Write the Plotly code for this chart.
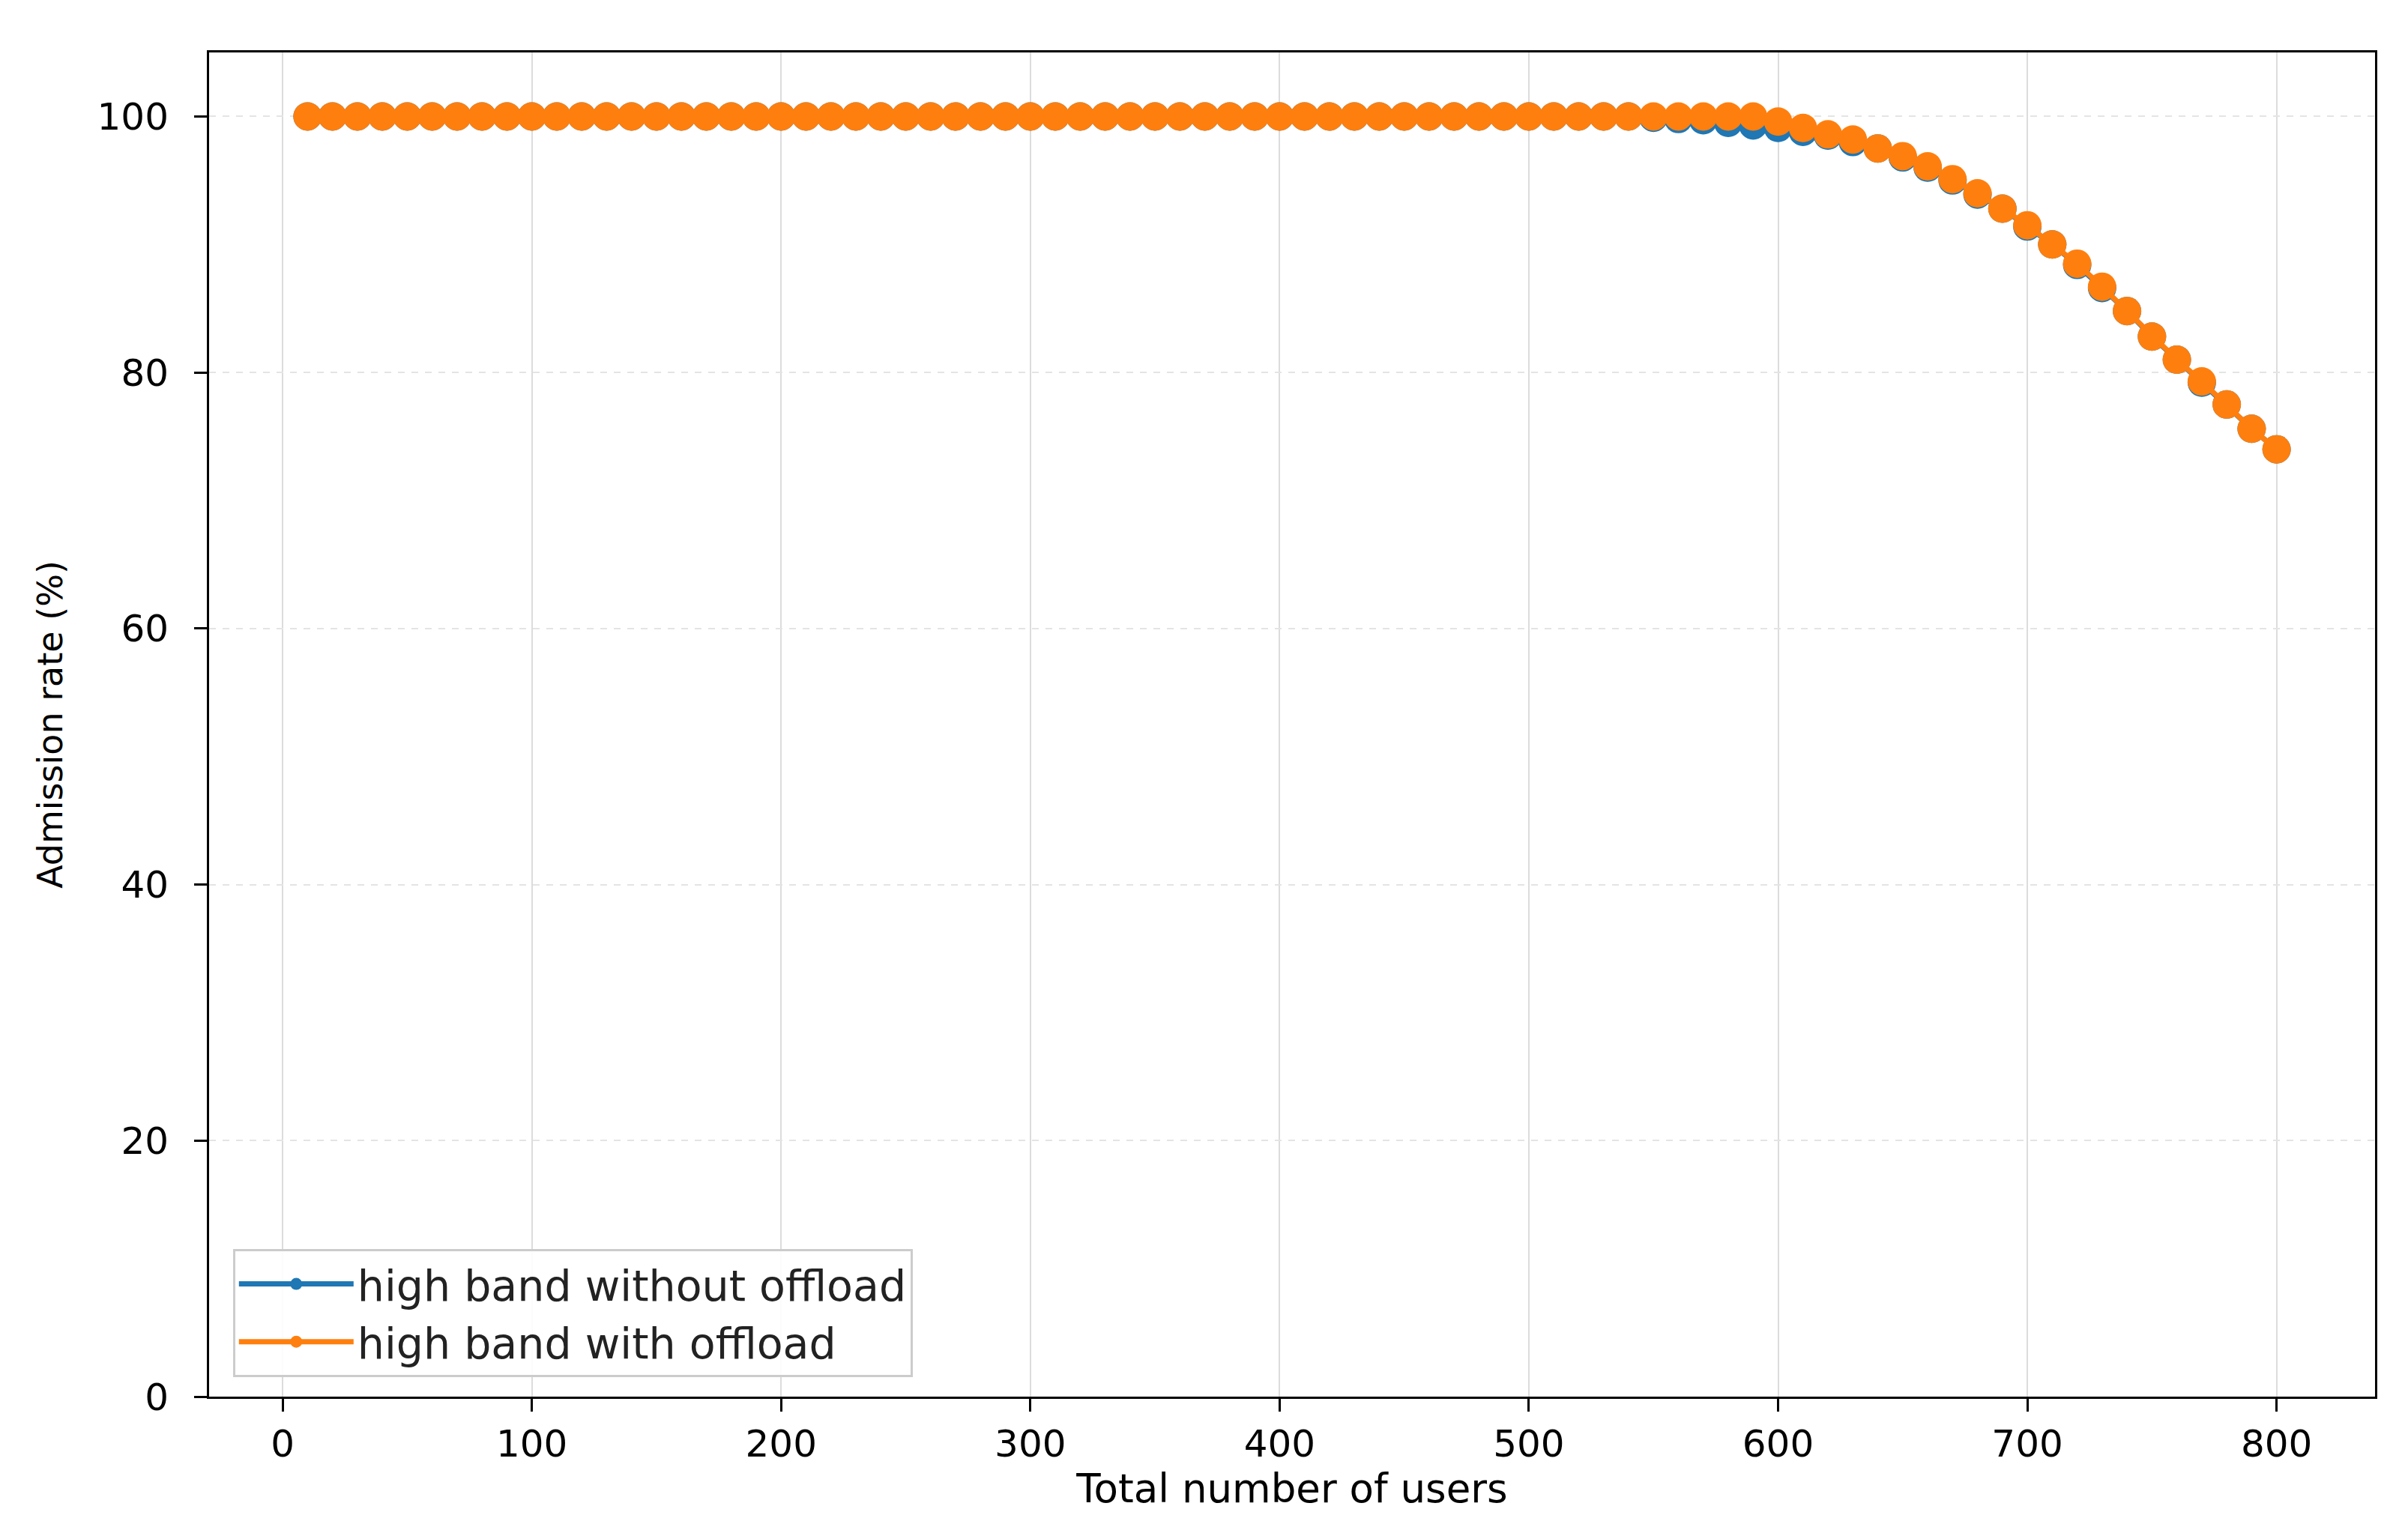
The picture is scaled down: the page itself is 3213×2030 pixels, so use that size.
import plotly.graph_objects as go

users = [10, 20, 30, 40, 50, 60, 70, 80, 90, 100,
         110, 120, 130, 140, 150, 160, 170, 180, 190, 200,
         210, 220, 230, 240, 250, 260, 270, 280, 290, 300,
         310, 320, 330, 340, 350, 360, 370, 380, 390, 400,
         410, 420, 430, 440, 450, 460, 470, 480, 490, 500,
         510, 520, 530, 540, 550, 560, 570, 580, 590, 600,
         610, 620, 630, 640, 650, 660, 670, 680, 690, 700,
         710, 720, 730, 740, 750, 760, 770, 780, 790, 800]

without_offload = [100] * 54 + [99.9, 99.8, 99.7, 99.5, 99.3, 99.1,
                                98.8, 98.5, 98.0, 97.5, 96.8, 96.0, 95.0, 93.9, 92.8, 91.4,
                                90.0, 88.4, 86.6, 84.8, 82.8, 81.0, 79.2, 77.5, 75.6, 74.0]

with_offload = [100] * 59 + [99.6,
                             99.1, 98.6, 98.2, 97.5, 96.9, 96.1, 95.1, 94.0, 92.8, 91.5,
                             90.0, 88.5, 86.7, 84.8, 82.8, 81.0, 79.3, 77.5, 75.6, 74.0]

series_names = ["high band without offload", "high band with offload"]
series_colors = ["#1f77b4", "#ff7f0e"]

x_ticks = [0, 100, 200, 300, 400, 500, 600, 700, 800]
y_ticks = [0, 20, 40, 60, 80, 100]

FONT = "DejaVu Sans"

fig = go.Figure()
for name, vals, col in zip(series_names, [without_offload, with_offload], series_colors):
    fig.add_trace(go.Scatter(
        x=users, y=vals, name=name, mode="lines+markers",
        line=dict(color=col, width=7),
        marker=dict(color=col, size=38, line=dict(width=0)),
    ))

fig.update_layout(
    width=3213, height=2030,
    margin=dict(l=271, r=52, t=62, b=174),
    paper_bgcolor="white", plot_bgcolor="white",
    font=dict(family=FONT, size=50, color="black"),
    showlegend=True,
    legend=dict(
        x=0.011, y=0.0145, xanchor="left", yanchor="bottom",
        bgcolor="rgba(255,255,255,0.9)", bordercolor="#cccccc", borderwidth=3,
        font=dict(family=FONT, size=57, color="#222222"),
        itemwidth=153, tracegroupgap=0,
    ),
)

fig.update_xaxes(
    range=[-29.5, 839.5], tickvals=x_ticks, ticktext=[str(v) for v in x_ticks],
    showline=True, linecolor="black", linewidth=3, mirror=True,
    ticks="outside", ticklen=17, tickwidth=3, tickcolor="black",
    showgrid=True, gridcolor="#dcdcdc", gridwidth=2,
    zeroline=False,
    title=dict(text="Total number of users", font=dict(family=FONT, size=53), standoff=6),
    tickfont=dict(family=FONT, size=50),
)
fig.update_yaxes(
    range=[0, 105], tickvals=y_ticks, ticktext=[str(v) for v in y_ticks],
    showline=True, linecolor="black", linewidth=3, mirror=True,
    ticks="outside", ticklen=17, tickwidth=3, tickcolor="black",
    showgrid=True, gridcolor="#e4e4e4", gridwidth=2, griddash="dash",
    zeroline=False, ticklabelstandoff=24,
    title=dict(text="Admission rate (%)", font=dict(family=FONT, size=46), standoff=32),
    tickfont=dict(family=FONT, size=50),
)

fig.write_html("out.html")
